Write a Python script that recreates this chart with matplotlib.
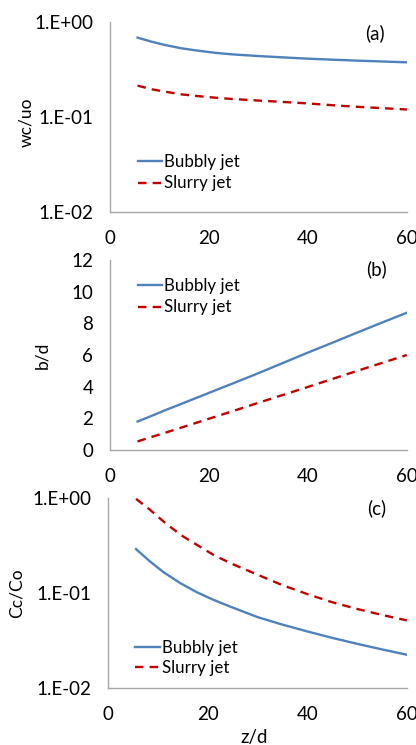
import matplotlib
matplotlib.use("Agg")
import matplotlib.pyplot as plt
import numpy as np

plt.rcParams['font.family'] = ['Lato', 'DejaVu Sans']

z = [5.6, 8.4, 11.1, 14.5, 17.8, 21.1, 24.5, 30, 35, 40, 45, 50, 55, 60]

# (a) wc/uo
wc_bubbly = [0.684, 0.621, 0.573, 0.528, 0.499, 0.475, 0.457, 0.438, 0.424, 0.411, 0.401, 0.392, 0.384, 0.376]
wc_slurry = [0.214, 0.196, 0.185, 0.173, 0.166, 0.160, 0.155, 0.149, 0.144, 0.139, 0.133, 0.128, 0.124, 0.12]

# (b) b/d
b_bubbly = [1.8, 2.15, 2.5, 2.92, 3.33, 3.74, 4.16, 4.85, 5.5, 6.15, 6.78, 7.42, 8.05, 8.67]
b_slurry = [0.54, 0.82, 1.08, 1.42, 1.75, 2.08, 2.42, 2.98, 3.48, 3.98, 4.49, 5.0, 5.5, 6.0]

# (c) Cc/Co
c_bubbly = [0.29, 0.215, 0.166, 0.127, 0.102, 0.085, 0.072, 0.0558, 0.0465, 0.0394, 0.0337, 0.0292, 0.0255, 0.0224]
c_slurry = [0.98, 0.753, 0.567, 0.411, 0.322, 0.253, 0.207, 0.156, 0.121, 0.0975, 0.080, 0.068, 0.0588, 0.0515]

xticks = [0, 20, 40, 60]
log_ticks = [0.01, 0.1, 1.0]
log_labels = ['1.E-02', '1.E-01', '1.E+00']
lin_ticks = [0, 2, 4, 6, 8, 10, 12]

blue = '#4F81BD'
red = '#C00000'
spine_c = '#A6A6A6'
fs = 13.5
fs_lab = 12.5
fs_leg = 12.2
dash = (0, (3.6, 2.6))

fig = plt.figure(figsize=(4.16, 7.45), dpi=100)
axa = fig.add_axes([0.264, 0.7154, 0.714, 0.2551])
axb = fig.add_axes([0.264, 0.396, 0.714, 0.255])
axc = fig.add_axes([0.26, 0.0765, 0.718, 0.255])

def style(ax):
    for s in ['top', 'right']:
        ax.spines[s].set_visible(False)
    for s in ['left', 'bottom']:
        ax.spines[s].set_color(spine_c)
        ax.spines[s].set_linewidth(1.0)
    ax.tick_params(axis='y', length=0, labelsize=fs, pad=12, colors='black')
    ax.tick_params(axis='x', length=0, labelsize=fs, pad=13, colors='black')
    ax.set_xlim(0, 60)
    ax.set_xticks(xticks)

leg_kw = dict(frameon=False, fontsize=fs_leg, handlelength=1.45, handletextpad=0.12,
              borderaxespad=0, borderpad=0, loc='center left')

# (a)
axa.plot(z, wc_bubbly, color=blue, lw=1.7, label='Bubbly jet')
axa.plot(z, wc_slurry, color=red, lw=1.7, ls=dash, label='Slurry jet')
axa.set_yscale('log')
axa.set_ylim(0.01, 1.0)
axa.set_yticks(log_ticks)
axa.set_yticklabels(log_labels)
axa.minorticks_off()
style(axa)
axa.set_ylabel('wc/uo', fontsize=fs_lab)
axa.yaxis.set_label_coords(-0.256, 0.47)
axa.text(0.892, 0.942, '(a)', transform=axa.transAxes, fontsize=fs, ha='center', va='center')
axa.legend(bbox_to_anchor=(0.094, 0.208), labelspacing=0.35, **leg_kw)

# (b)
axb.plot(z, b_bubbly, color=blue, lw=1.7, label='Bubbly jet')
axb.plot(z, b_slurry, color=red, lw=1.7, ls=dash, label='Slurry jet')
axb.set_ylim(0, 12)
axb.set_yticks(lin_ticks)
style(axb)
axb.set_ylabel('b/d', fontsize=fs_lab)
axb.yaxis.set_label_coords(-0.202, 0.5)
axb.text(0.898, 0.953, '(b)', transform=axb.transAxes, fontsize=fs, ha='center', va='center')
axb.legend(bbox_to_anchor=(0.094, 0.808), labelspacing=0.35, **leg_kw)

# (c)
axc.plot(z, c_bubbly, color=blue, lw=1.7, label='Bubbly jet')
axc.plot(z, c_slurry, color=red, lw=1.7, ls=dash, label='Slurry jet')
axc.set_yscale('log')
axc.set_ylim(0.01, 1.0)
axc.set_yticks(log_ticks)
axc.set_yticklabels(log_labels)
axc.minorticks_off()
style(axc)
axc.set_ylabel('Cc/Co', fontsize=fs_lab)
axc.yaxis.set_label_coords(-0.278, 0.5)
axc.set_xlabel('z/d', fontsize=fs)
axc.xaxis.set_label_coords(0.49, -0.215)
axc.text(0.9, 0.949, '(c)', transform=axc.transAxes, fontsize=fs, ha='center', va='center')
axc.legend(bbox_to_anchor=(0.09, 0.157), labelspacing=0.22, **leg_kw)

fig.savefig('out.png', dpi=100)
